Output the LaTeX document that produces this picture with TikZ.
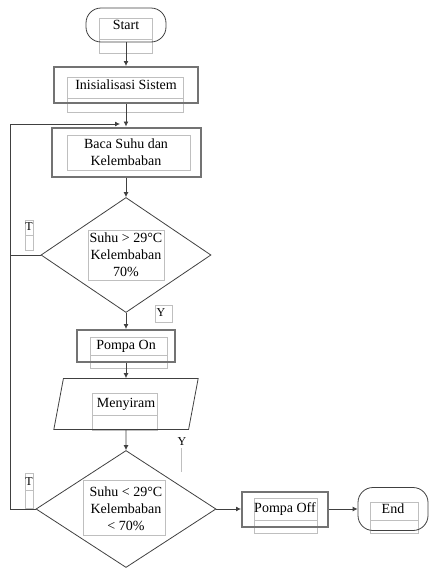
\documentclass[tikz,border=0pt]{standalone}
\usepackage{fontspec}
\setmainfont{Liberation Serif}
\usetikzlibrary{arrows.meta,positioning,shapes.geometric}

\begin{document}
\begin{tikzpicture}[x=1pt,y=-1pt,
  font=\fontsize{14}{17}\selectfont,
  line/.style={draw=black!75,line width=0.8pt},
  arr/.style={line,-{Latex[length=5pt,width=5pt]}},
  term/.style={line,rounded corners=15pt,inner sep=0pt},
  proc/.style={draw=black!55,line width=2pt,inner sep=0pt,align=center},
  dec/.style={diamond,aspect=1.48,line,inner sep=0pt,align=center},
  io/.style={trapezium,trapezium left angle=70,trapezium right angle=110,trapezium stretches=true,line,inner sep=0pt},
  frame/.style={draw=black!25,line width=0.6pt},
  lbl/.style={font=\fontsize{12}{12}\selectfont,inner sep=0.5pt}]
  \useasboundingbox (0,0) rectangle (430,568);

  % text box frames
  \draw[frame] (99,18) rectangle (152,53) (99,39) -- (152,39);
  \draw[frame] (67,77) rectangle (183,112) (67,98) -- (183,98);
  \draw[frame] (67,135) rectangle (190,170);
  \draw[frame] (88,230) rectangle (164,280);
  \draw[frame] (90,337) rectangle (167,368) (90,355) -- (167,355);
  \draw[frame] (92,393) rectangle (157,430) (92,415) -- (157,415);
  \draw[frame] (83,480) rectangle (165,535);
  \draw[frame] (254,498) rectangle (317,533) (254,520) -- (317,520);
  \draw[frame] (370,502) rectangle (418,533) (370,520) -- (418,520);
  \draw[frame] (25,220) rectangle (33,250) (25,235) -- (33,235);
  \draw[frame] (155,305) rectangle (172,322);
  \draw[frame] (181,448) -- (181,472);
  \draw[frame] (25,473) rectangle (33,508) (25,490) -- (33,490);

  % shapes
  \node[term,minimum width=80pt,minimum height=34pt] (start) at (126,25) {Start};
  \node[proc,minimum width=144pt,minimum height=36pt] (init) at (126,85) {Inisialisasi Sistem};
  \node[proc,minimum width=149pt,minimum height=49pt] (baca) at (126,152) {Baca Suhu dan\\Kelembaban};
  \node[dec,minimum width=170pt,minimum height=115pt] (cek1) at (126,255) {Suhu > 29°C\\Kelembaban\\70\%};
  \node[proc,minimum width=98pt,minimum height=32pt] (on) at (126,346) {Pompa On};
  \node[io,minimum width=145pt,minimum height=51pt] (siram) at (126,404) {Menyiram};
  \node[dec,minimum width=180pt,minimum height=117pt] (cek2) at (126,509) {Suhu < 29°C\\Kelembaban\\< 70\%};
  \node[proc,minimum width=86pt,minimum height=35pt] (off) at (285,509) {Pompa Off};
  \node[term,minimum width=70pt,minimum height=43pt] (end) at (393,509) {End};

  % labels
  \node[lbl] (t1) at (29,227) {T};
  \node[lbl] (y1) at (161,313) {Y};
  \node[lbl] (y2) at (182,442) {Y};
  \node[lbl] (t2) at (29,482) {T};

  % connectors
  \coordinate (loop) at (10,124);
  \draw[arr] (start) -- (init);
  \draw[arr] (init) -- (baca);
  \draw[arr] (baca) -- (cek1);
  \draw[arr] (cek1) -- (on);
  \draw[arr] (on) -- (siram);
  \draw[arr] (siram) -- (cek2);
  \draw[arr] (cek2) -- (off);
  \draw[arr] (off) -- (end);
  \draw[arr,shorten >=6pt] (cek2.west) -- (cek2.west -| loop) -- (loop) -- (loop -| baca.north);
  \draw[line] (cek1.west) -- (cek1.west -| loop);
\end{tikzpicture}
\end{document}
